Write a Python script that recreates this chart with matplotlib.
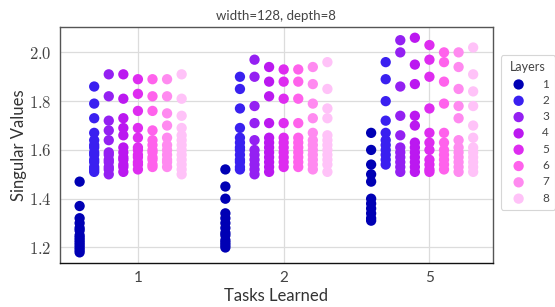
import numpy as np
import matplotlib
matplotlib.use("Agg")
import matplotlib.pyplot as plt
from matplotlib.ticker import FuncFormatter

plt.rcParams["font.family"] = ["Lato", "DejaVu Sans"]
plt.rcParams["mathtext.fontset"] = "cm"

# tasks learned (x categories) and per-layer singular values
tasks = ["1", "2", "5"]
layers = [1, 2, 3, 4, 5, 6, 7, 8]
colors = ["#0000b4", "#3a20f0", "#9420f2", "#bb18f0", "#de2cf0",
          "#ff62ec", "#ff8af0", "#ffc2f8"]

sv_task1 = [
    [1.47, 1.37, 1.32, 1.30, 1.28, 1.27, 1.25, 1.24, 1.23, 1.22, 1.21, 1.20, 1.19, 1.18],
    [1.86, 1.79, 1.73, 1.67, 1.64, 1.62, 1.61, 1.59, 1.58, 1.56, 1.55, 1.53, 1.52, 1.51],
    [1.91, 1.82, 1.72, 1.68, 1.64, 1.59, 1.58, 1.56, 1.55, 1.53, 1.52, 1.50],
    [1.91, 1.81, 1.73, 1.69, 1.66, 1.61, 1.59, 1.57, 1.56, 1.54, 1.53, 1.51],
    [1.89, 1.83, 1.76, 1.69, 1.65, 1.61, 1.60, 1.58, 1.57, 1.55, 1.54, 1.52],
    [1.89, 1.82, 1.76, 1.68, 1.64, 1.62, 1.60, 1.59, 1.57, 1.56, 1.54, 1.53],
    [1.89, 1.82, 1.75, 1.70, 1.65, 1.62, 1.60, 1.58, 1.56, 1.55, 1.53],
    [1.91, 1.81, 1.74, 1.69, 1.66, 1.64, 1.62, 1.60, 1.58, 1.56, 1.54, 1.52, 1.50],
]
sv_task2 = [
    [1.52, 1.45, 1.40, 1.34, 1.32, 1.30, 1.28, 1.26, 1.25, 1.23, 1.22, 1.21, 1.20],
    [1.90, 1.85, 1.77, 1.69, 1.65, 1.63, 1.61, 1.60, 1.58, 1.56, 1.55, 1.53, 1.52],
    [1.97, 1.90, 1.78, 1.71, 1.64, 1.60, 1.58, 1.56, 1.54, 1.52, 1.50],
    [1.94, 1.88, 1.82, 1.71, 1.65, 1.63, 1.61, 1.59, 1.57, 1.55, 1.53, 1.51],
    [1.93, 1.88, 1.81, 1.71, 1.65, 1.63, 1.61, 1.59, 1.57, 1.55, 1.53],
    [1.93, 1.88, 1.81, 1.71, 1.65, 1.63, 1.61, 1.59, 1.57, 1.55, 1.53],
    [1.94, 1.87, 1.79, 1.73, 1.67, 1.64, 1.62, 1.60, 1.58, 1.56, 1.54, 1.52],
    [1.96, 1.85, 1.77, 1.73, 1.66, 1.64, 1.62, 1.60, 1.58, 1.56, 1.54, 1.51],
]
sv_task5 = [
    [1.67, 1.60, 1.54, 1.50, 1.47, 1.40, 1.38, 1.36, 1.34, 1.32, 1.31],
    [1.96, 1.89, 1.80, 1.72, 1.67, 1.64, 1.62, 1.60, 1.58, 1.56, 1.54],
    [2.05, 2.00, 1.86, 1.74, 1.66, 1.61, 1.59, 1.57, 1.55, 1.53, 1.51],
    [2.06, 1.95, 1.87, 1.74, 1.70, 1.63, 1.61, 1.59, 1.57, 1.55, 1.53, 1.51],
    [2.03, 1.97, 1.90, 1.77, 1.67, 1.63, 1.60, 1.56, 1.54, 1.52, 1.51],
    [2.00, 1.96, 1.88, 1.79, 1.67, 1.63, 1.60, 1.58, 1.56, 1.54, 1.52],
    [2.00, 1.94, 1.85, 1.78, 1.73, 1.64, 1.61, 1.59, 1.57, 1.55, 1.53, 1.51],
    [2.02, 1.91, 1.84, 1.78, 1.70, 1.65, 1.61, 1.59, 1.57, 1.55, 1.53, 1.51],
]
all_sv = [sv_task1, sv_task2, sv_task5]

fig = plt.figure(figsize=(5.55, 3.07), dpi=100)
ax = fig.add_axes([0.108, 0.143, 0.780, 0.769])

step = 0.1
for ti, task_sv in enumerate(all_sv):
    for li, vals in enumerate(task_sv):
        xs = np.full(len(vals), ti + (layers[li] - 5) * step)
        ax.scatter(xs, vals, s=55, color=colors[li], edgecolor="none", zorder=3,
                   label=str(layers[li]) if ti == 0 else None)

ax.set_xticks(range(len(tasks)))
ax.set_xticklabels(tasks)
ax.set_yticks([1.2, 1.4, 1.6, 1.8, 2.0])
ax.yaxis.set_major_formatter(FuncFormatter(lambda v, p: r"$%.1f$" % v))
ax.tick_params(length=0, labelsize=12, colors="#444444", pad=6)
for lab in ax.get_xticklabels():
    lab.set_fontsize(11)
ax.grid(True, color="#dcdcdc", lw=0.9, zorder=0)
ax.set_axisbelow(True)
for sp in ax.spines.values():
    sp.set_color("#555555")
    sp.set_linewidth(1.0)
ax.spines["bottom"].set_color("#111111")

ax.set_xlabel("Tasks Learned", fontsize=12, color="#333333", labelpad=2)
ax.set_ylabel("Singular Values", fontsize=12, color="#333333", labelpad=1)
ax.set_title("width=128, depth=8", fontsize=9.5, color="#444444", pad=5)

leg = ax.legend(title="Layers", loc="upper left", bbox_to_anchor=(1.005, 0.905),
                fontsize=8.5, title_fontsize=9, frameon=True, handletextpad=1.0,
                labelspacing=0.45, borderpad=0.5, markerscale=1.0, labelcolor="#444444")
leg.get_title().set_color("#444444")
leg.get_frame().set_edgecolor("#cccccc")
leg.get_frame().set_linewidth(0.8)

fig.savefig("out.png", dpi=100)
